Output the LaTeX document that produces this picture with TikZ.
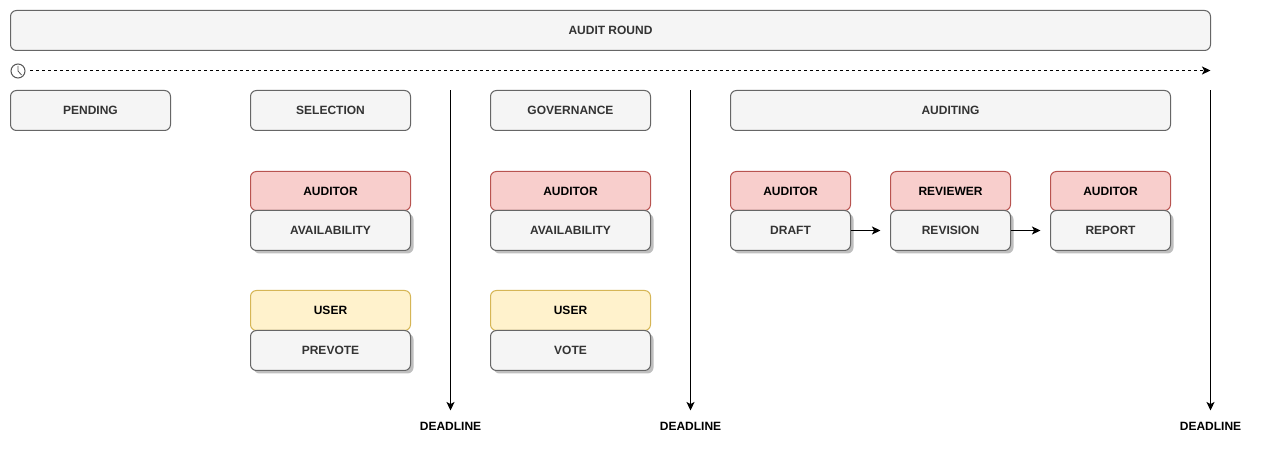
\documentclass[tikz,border=0pt]{standalone}
\usepackage{fontspec}
\setmainfont{Liberation Sans}
\usetikzlibrary{arrows.meta,shadows,calc}
\definecolor{boxfill}{HTML}{F5F5F5}
\definecolor{boxline}{HTML}{666666}
\definecolor{boxtext}{HTML}{333333}
\definecolor{redfill}{HTML}{F8CECC}
\definecolor{redline}{HTML}{B85450}
\definecolor{yelfill}{HTML}{FFF2CC}
\definecolor{yelline}{HTML}{D6B656}
\tikzset{
  x=0.75pt,y=-0.75pt,
  base/.style={rounded corners=4.5pt,line width=0.75pt,inner sep=0pt,outer sep=0pt,anchor=north west,align=center,
    font=\fontsize{9}{10.8}\selectfont\bfseries,minimum height=30pt},
  grey/.style={base,draw=boxline,fill=boxfill,text=boxtext},
  greyshadow/.style={grey,drop shadow={shadow xshift=2.25pt,shadow yshift=-2.25pt,fill=black,opacity=0.25}},
  redbox/.style={base,draw=redline,fill=redfill,text=black},
  yelbox/.style={base,draw=yelline,fill=yelfill,text=black},
  w120/.style={minimum width=90pt},
  w160/.style={minimum width=120pt},
  arrowline/.style={-{Stealth[length=6.4pt,width=6pt,inset=1.6pt]},line width=0.75pt,black},
  timeline/.style={arrowline,dash pattern=on 2.25pt off 2.25pt},
  deadline/.style={font=\fontsize{9}{10.8}\selectfont\bfseries,text=black,inner sep=0pt},
}
\begin{document}
\begin{tikzpicture}
\useasboundingbox (0,0) rectangle (1261,452);
\fill[white] (0,0) rectangle (1261,452);

\node[grey,minimum width=900pt] (round) at (10.5,10.5) {AUDIT ROUND};

\node[circle,draw=boxline!85!black,line width=0.75pt,minimum size=10.5pt,inner sep=0pt,outer sep=0pt] (clock) at (18,71) {};
\draw[boxline!85!black,line width=0.6pt] (18,66) -- (clock.center) -- (21.5,75);
\coordinate (tstart) at (30,70.5);
\coordinate (tend) at (1210.5,70.5);
\draw[timeline] (tstart) -- (tend);

\node[grey,w160] (pending) at (10.5,90.5) {PENDING};
\node[grey,w160] (selection) at (250.5,90.5) {SELECTION};
\node[grey,w160] (governance) at (490.5,90.5) {GOVERNANCE};
\node[grey,minimum width=330pt] (auditing) at (730.5,90.5) {AUDITING};

\node[redbox,w160,minimum height=29.25pt] (a1) at (250.5,171.5) {AUDITOR};
\node[greyshadow,w160] (avail1) at (250.5,210.5) {AVAILABILITY};
\node[yelbox,w160] (u1) at (250.5,290.5) {USER};
\node[greyshadow,w160] (prevote) at (250.5,330.5) {PREVOTE};

\node[redbox,w160,minimum height=29.25pt] (a2) at (490.5,171.5) {AUDITOR};
\node[greyshadow,w160] (avail2) at (490.5,210.5) {AVAILABILITY};
\node[yelbox,w160] (u2) at (490.5,290.5) {USER};
\node[greyshadow,w160] (vote) at (490.5,330.5) {VOTE};

\node[redbox,w120,minimum height=29.25pt] (a3) at (730.5,171.5) {AUDITOR};
\node[greyshadow,w120] (draft) at (730.5,210.5) {DRAFT};
\node[redbox,w120,minimum height=29.25pt] (rev) at (890.5,171.5) {REVIEWER};
\node[greyshadow,w120] (revision) at (890.5,210.5) {REVISION};
\node[redbox,w120,minimum height=29.25pt] (a4) at (1050.5,171.5) {AUDITOR};
\node[greyshadow,w120] (report) at (1050.5,210.5) {REPORT};

\coordinate (draftend) at (880.5,230.5);
\coordinate (revend) at (1040.5,230.5);
\draw[arrowline] (draft.east) -- (draftend);
\draw[arrowline] (revision.east) -- (revend);

\node[deadline] (d1) at (450.5,426) {DEADLINE};
\node[deadline] (d2) at (690.5,426) {DEADLINE};
\node[deadline] (d3) at (1210.5,426) {DEADLINE};
\coordinate (d1s) at (450.5,90.5);
\coordinate (d2s) at (690.5,90.5);
\coordinate (d3s) at (1210.5,90.5);
\coordinate (d1e) at (450.5,410.5);
\coordinate (d2e) at (690.5,410.5);
\coordinate (d3e) at (1210.5,410.5);
\draw[arrowline] (d1s) -- (d1e);
\draw[arrowline] (d2s) -- (d2e);
\draw[arrowline] (d3s) -- (d3e);
\end{tikzpicture}
\end{document}
